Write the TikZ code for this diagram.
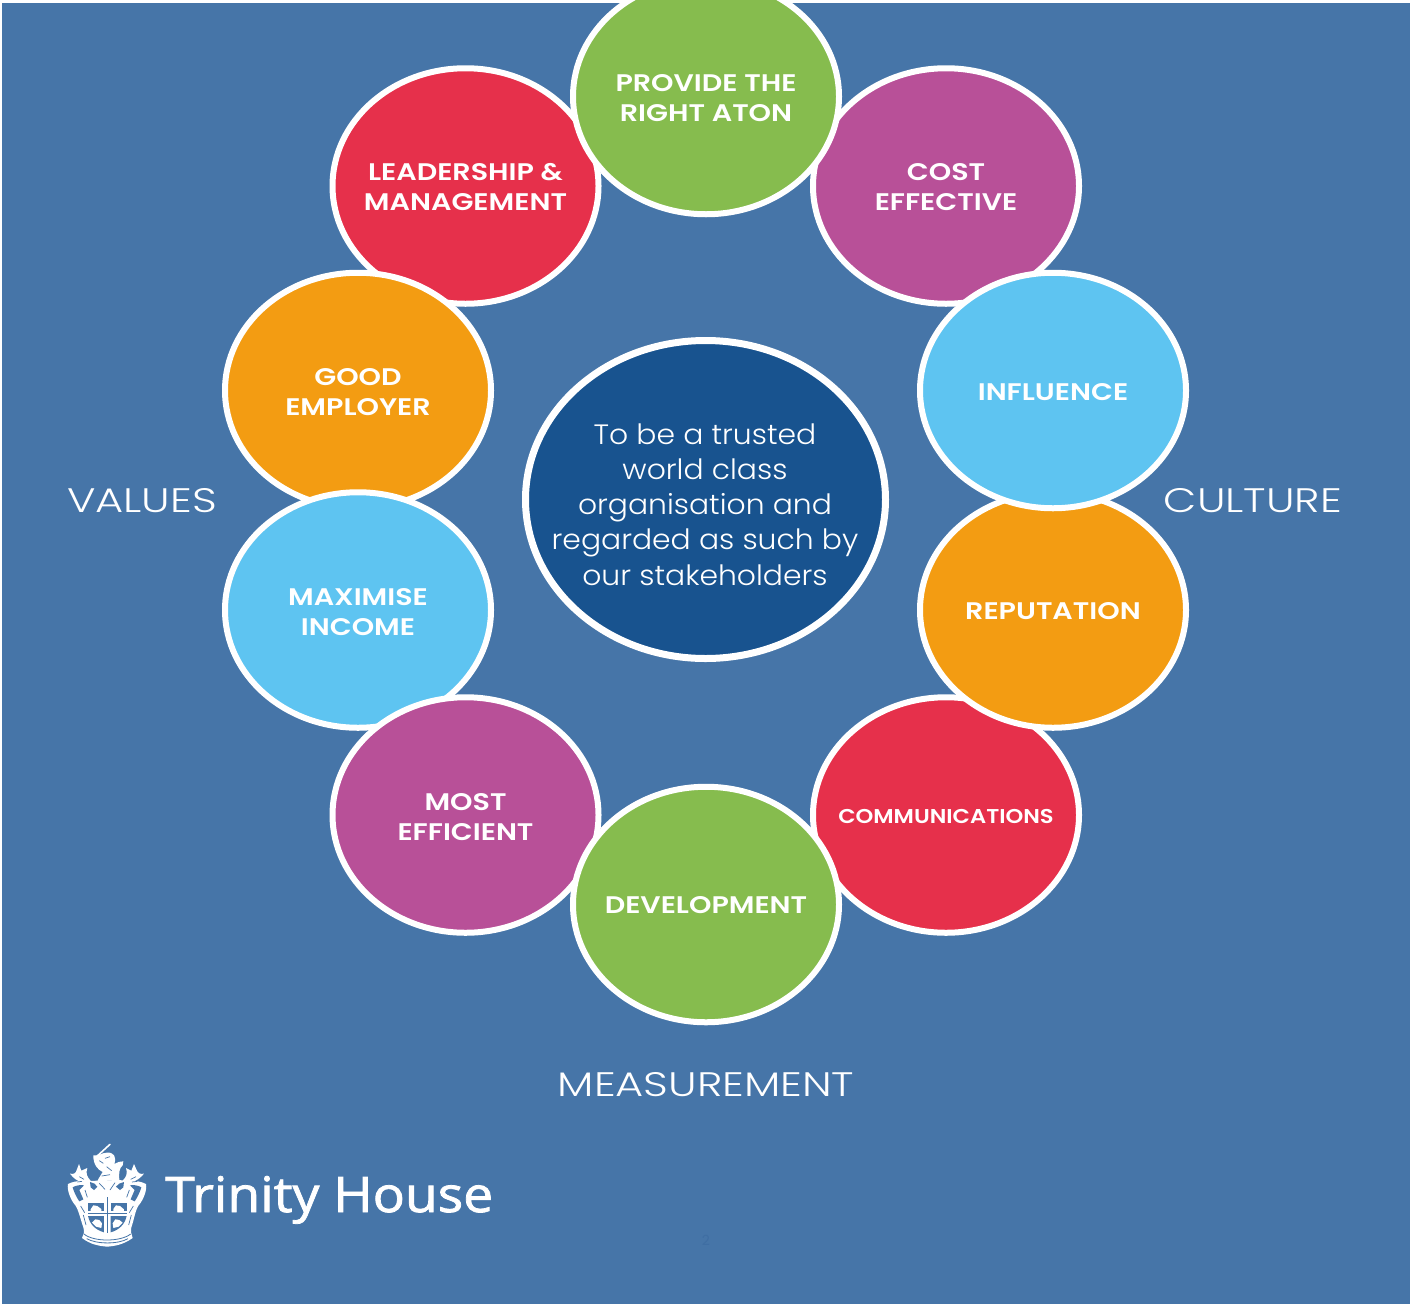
\documentclass[tikz,border=0pt]{standalone}
\usepackage{fontspec}
\usetikzlibrary{shapes.geometric}
\setmainfont{Poppins}
\newfontfamily\lblfont[FakeStretch=1.19]{Poppins SemiBold}
\newfontfamily\commfont[FakeStretch=1.13]{Poppins SemiBold}
\newfontfamily\sidefont[FakeStretch=1.27]{Poppins Light}
\newfontfamily\corefont[FakeStretch=1.065]{Poppins Light}
\newfontfamily\logofont[FakeBold=1.6,FakeStretch=1.09]{Open Sans}
\definecolor{bgblue}{HTML}{4675A8}
\definecolor{coreblue}{HTML}{18538F}
\definecolor{cgreen}{HTML}{86BC4E}
\definecolor{cpurple}{HTML}{B85098}
\definecolor{cred}{HTML}{E6304B}
\definecolor{corange}{HTML}{F39C12}
\definecolor{csky}{HTML}{5EC4F1}
\definecolor{pagenum}{HTML}{3F6EA3}
\tikzset{
 disc/.style={ellipse,draw=white,line width=6pt,minimum width=266pt,minimum height=235.5pt,inner sep=0pt},
 lbl/.style={text=white,align=center,inner sep=0pt,font=\lblfont\fontsize{24}{30}\selectfont},
 outerlabel/.style={text=white,font=\sidefont\fontsize{34}{40}\selectfont,inner sep=0pt}
}
\begin{document}
\begin{tikzpicture}[x=1pt,y=-1pt]
\useasboundingbox (0,0) rectangle (1410,1304);
\fill[white] (0,0) rectangle (1410,1304);
\fill[bgblue] (2,3) rectangle (1410,1304);
\clip (0,0) rectangle (1410,1304);
\node[disc,fill=cred] (lead) at (465.5,186) {};
\node[lbl] (leadt) at (465.5,187) {LEADERSHIP \&\\MANAGEMENT};
\node[disc,fill=cpurple] (cost) at (946,186) {};
\node[lbl] (costt) at (946,187) {COST\\EFFECTIVE};
\node[disc,fill=corange] (good) at (358,390.5) {};
\node[lbl] (goodt) at (358,392.5) {GOOD\\EMPLOYER};
\node[disc,fill=cred] (comm) at (946,815) {};
\node[lbl,font=\commfont\fontsize{20}{30}\selectfont] (commt) at (946,816) {COMMUNICATIONS};
\node[disc,fill=corange] (rep) at (1053,610) {};
\node[lbl] (rept) at (1053,611) {REPUTATION};
\node[disc,fill=csky] (inf) at (1053,390.5) {};
\node[lbl] (inft) at (1053,392) {INFLUENCE};
\node[disc,fill=csky] (max) at (358,610) {};
\node[lbl] (maxt) at (358,612) {MAXIMISE\\INCOME};
\node[disc,fill=cpurple] (most) at (465.5,815) {};
\node[lbl] (mostt) at (465.5,817) {MOST\\EFFICIENT};
\node[disc,fill=cgreen] (top) at (706,96.5) {};
\node[lbl] (topt) at (706,98.5) {PROVIDE THE\\RIGHT ATON};
\node[disc,fill=cgreen] (dev) at (706,904.5) {};
\node[lbl] (devt) at (706,905.5) {DEVELOPMENT};
\node[ellipse,draw=white,fill=coreblue,line width=7pt,minimum width=360pt,minimum height=318pt,inner sep=0pt] (core) at (705.5,499.5) {};
\node[text=white,align=center,inner sep=0pt,font=\corefont\fontsize{28}{35.2}\selectfont] (coret) at (705,504.5)
  {To be a trusted\\world class\\organisation and\\regarded as such by\\our stakeholders};
\node[outerlabel] (values) at (142,501) {VALUES};
\node[outerlabel] (culture) at (1253,501) {CULTURE};
\node[outerlabel] (meas) at (706,1085) {MEASUREMENT};
\node[anchor=base west,inner sep=0pt,text=white,font=\logofont\fontsize{49}{50}\selectfont] (brand) at (165,1212) {Trinity House};
\node[text=pagenum,font=\fontsize{14}{16}\selectfont,inner sep=0pt] (pnum) at (706,1240) {2};
% crest
\begin{scope}[shift={(60,1140)},x=0.3333pt,y=-0.3333pt]
 % sword
 \draw[white,line width=1.6pt,line cap=round] (103,56) -- (150,13);
 % figure and lion
 \fill[white] (100,46) .. controls (115,50) and (125,38) .. (140,38) .. controls (162,36) and (170,50) .. (163,72)
   .. controls (172,68) and (180,62) .. (190,64) -- (188,76) .. controls (178,84) and (176,100) .. (178,120)
   -- (112,124) .. controls (118,110) and (124,104) .. (128,96) .. controls (112,88) and (100,74) .. (100,46) -- cycle;
 % leaves
 \fill[white] (30,101) .. controls (42,103) and (48,100) .. (50,90) -- (57,72) -- (64,92) -- (82,84)
   .. controls (76,100) and (82,112) .. (92,122) .. controls (75,132) and (50,128) .. (30,101) -- cycle;
 \fill[white] (252,101) .. controls (240,103) and (234,100) .. (230,90) -- (222,72) -- (214,92) -- (198,84)
   .. controls (204,100) and (198,112) .. (188,122) .. controls (205,132) and (230,128) .. (252,101) -- cycle;
 % helmet, mantling, shield body
 \fill[white] (24,132) .. controls (50,118) and (85,124) .. (112,122) -- (178,120) .. controls (200,124) and (232,118) .. (258,132)
   .. controls (262,150) and (250,180) .. (236,196) .. controls (226,210) and (222,240) .. (214,262)
   .. controls (212,274) and (214,285) .. (218,294) .. controls (190,314) and (165,318) .. (142,320)
   .. controls (118,318) and (92,314) .. (66,294) .. controls (72,285) and (74,274) .. (70,262)
   .. controls (62,240) and (56,210) .. (46,196) .. controls (32,180) and (20,150) .. (24,132) -- cycle;
 % gaps
 \fill[bgblue] (90,126) .. controls (100,128) and (108,132) .. (112,140) -- (102,150) -- (92,142) -- cycle;
 \fill[bgblue] (192,126) .. controls (182,128) and (172,132) .. (168,140) -- (180,150) -- (190,142) -- cycle;
 \fill[bgblue] (38,142) .. controls (48,136) and (60,134) .. (72,136) -- (58,150) -- (70,178) -- (58,184) .. controls (48,170) and (42,155) .. (38,142) -- cycle;
 \fill[bgblue] (244,142) .. controls (234,136) and (222,134) .. (210,136) -- (224,150) -- (212,178) -- (224,184) .. controls (234,170) and (240,155) .. (244,142) -- cycle;
 \foreach \a/\b/\c/\d in {118/62/130/70,135/55/150/50,140/80/155/92,125/108/150/104,58/110/72/118,212/118/228/110,
   52/126/66/124,216/126/232/124,118/130/135/148,165/128/150/150,75/150/82/172,208/150/200/172,
   62/198/74/218,220/198/208/218,70/225/78/255,214/225/206/255}
   \draw[bgblue,line width=0.7pt] (\a,\b) -- (\c,\d);
 \draw[bgblue,line width=0.8pt] (72,282) .. controls (100,306) and (182,306) .. (212,282);
 \draw[bgblue,line width=0.8pt] (80,296) .. controls (110,313) and (175,313) .. (204,296);
 % shield
 \fill[bgblue] (84,188) -- (132,188) -- (132,214) -- (84,214) -- cycle;
 \fill[bgblue] (152,188) -- (200,188) -- (200,214) -- (152,214) -- cycle;
 \fill[bgblue] (84,228) -- (132,228) -- (132,277) .. controls (108,270) and (90,255) .. (84,228) -- cycle;
 \fill[bgblue] (152,228) -- (200,228) .. controls (194,255) and (176,270) .. (152,277) -- cycle;
 \fill[white] (92,208) -- (100,196) -- (112,198) -- (124,207) -- (124,214) -- (92,214) -- cycle;
 \fill[white] (160,207) -- (168,196) -- (180,198) -- (192,208) -- (192,214) -- (160,214) -- cycle;
 \fill[white] (96,248) -- (106,238) -- (118,240) -- (126,250) -- (124,264) -- (108,260) -- cycle;
 \fill[white] (158,250) -- (166,238) -- (178,240) -- (188,248) -- (176,260) -- (160,264) -- cycle;
 \fill[bgblue] (140,172) rectangle (144,280);
 \fill[bgblue] (84,220) rectangle (200,222.5);
\end{scope}
\end{tikzpicture}
\end{document}
